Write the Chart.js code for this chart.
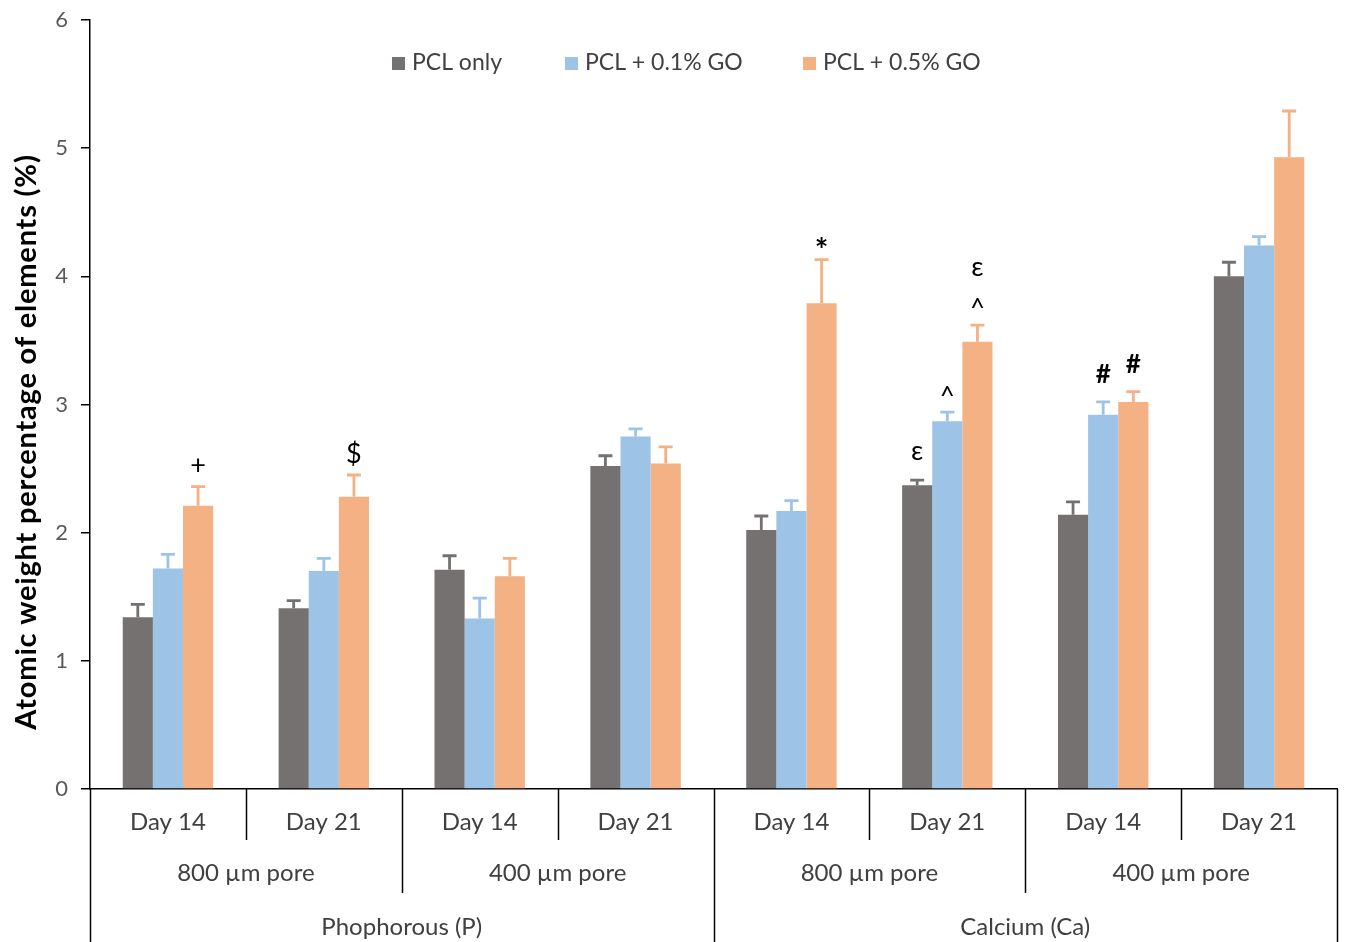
<!DOCTYPE html>
<html>
<head>
<meta charset="utf-8">
<script src="https://cdn.jsdelivr.net/npm/chart.js@4.4.1/dist/chart.umd.min.js"></script>
<style>
  html, body { margin: 0; padding: 0; background: #ffffff; }
  #wrap { width: 1345px; height: 942px; position: relative; }
</style>
</head>
<body>
<div id="wrap"><canvas id="chart" width="1345" height="942"></canvas></div>
<script>
// Category labels (three-level x axis)
const dayLabels = ['Day 14', 'Day 21', 'Day 14', 'Day 21', 'Day 14', 'Day 21', 'Day 14', 'Day 21'];
const poreLabels = ['800 \u00b5m pore', '400 \u00b5m pore', '800 \u00b5m pore', '400 \u00b5m pore'];
const elementLabels = ['Phophorous (P)', 'Calcium (Ca)'];

// Series names
const seriesNames = ['PCL only', 'PCL + 0.1% GO', 'PCL + 0.5% GO'];

// Mean values (%)
const pclOnly = [1.34, 1.41, 1.71, 2.52, 2.02, 2.37, 2.14, 4.00];
const pclGo01 = [1.72, 1.70, 1.33, 2.75, 2.17, 2.87, 2.92, 4.24];
const pclGo05 = [2.21, 2.28, 1.66, 2.54, 3.79, 3.49, 3.02, 4.93];

// Standard deviations (upper error bars)
const pclOnlyErr = [0.10, 0.06, 0.11, 0.08, 0.11, 0.04, 0.10, 0.11];
const pclGo01Err = [0.11, 0.10, 0.16, 0.06, 0.08, 0.07, 0.10, 0.07];
const pclGo05Err = [0.15, 0.17, 0.14, 0.13, 0.34, 0.13, 0.08, 0.36];

// Significance marks: category index, series index, symbols (bottom to top)
const sigCategory = [0, 1, 4, 5, 5, 5, 6, 6];
const sigSeries   = [2, 2, 2, 0, 1, 2, 1, 2];
const sigSymbols  = [['+'], ['$'], ['*'], ['\u03b5'], ['^'], ['^', '\u03b5'], ['#'], ['#']];

// Y axis tick values
const yTicks = [0, 1, 2, 3, 4, 5, 6];
const yTitle = 'Atomic weight percentage of elements (%)';

const colors = ['#767171', '#9DC3E6', '#F4B183'];
const errors = [pclOnlyErr, pclGo01Err, pclGo05Err];
const FONT = 'Lato, "Open Sans", sans-serif';

// Upper error bars with caps
const errorBarPlugin = {
  id: 'errorBars',
  afterDatasetsDraw(chart) {
    const ctx = chart.ctx;
    const y = chart.scales.y;
    ctx.save();
    chart.data.datasets.forEach((ds, di) => {
      const meta = chart.getDatasetMeta(di);
      meta.data.forEach((bar, i) => {
        const top = y.getPixelForValue(ds.data[i] + errors[di][i]);
        const base = y.getPixelForValue(ds.data[i]);
        ctx.strokeStyle = colors[di];
        ctx.lineWidth = 2.8;
        ctx.beginPath();
        ctx.moveTo(bar.x, base);
        ctx.lineTo(bar.x, top);
        ctx.moveTo(bar.x - 7, top);
        ctx.lineTo(bar.x + 7, top);
        ctx.stroke();
      });
    });
    ctx.restore();
  }
};

// Gap (px) between the error-bar cap and the symbol centre, per glyph shape
const symbolGap = { '+': 21, '$': 21, '*': 8, '\u03b5': 29, '^': 16, '#': 27 };
const symbolFont = { '*': 'bold 32px ', '^': '26px ', '#': 'bold 26px ', '+': '27px ', '$': '27px ', '\u03b5': '27px ' };

// Significance symbols above the error bars
const sigPlugin = {
  id: 'sigMarks',
  afterDatasetsDraw(chart) {
    const ctx = chart.ctx;
    const y = chart.scales.y;
    ctx.save();
    ctx.fillStyle = '#000000';
    ctx.textAlign = 'center';
    ctx.textBaseline = 'middle';
    sigCategory.forEach((c, k) => {
      const s = sigSeries[k];
      const bar = chart.getDatasetMeta(s).data[c];
      const ds = chart.data.datasets[s];
      const top = y.getPixelForValue(ds.data[c] + errors[s][c]);
      let cy = top - symbolGap[sigSymbols[k][0]];
      sigSymbols[k].forEach((sym, level) => {
        if (level > 0) cy -= 42;
        ctx.font = (symbolFont[sym] || '26px ') + FONT;
        ctx.fillText(sym, bar.x, cy);
      });
    });
    ctx.restore();
  }
};

// Legend drawn inside the plot area, plus the rotated y-axis title
const legendPlugin = {
  id: 'innerLegend',
  afterDraw(chart) {
    const ctx = chart.ctx;
    const xs = [392, 565, 803];
    const cy = 63;
    ctx.save();
    ctx.font = '23px ' + FONT;
    ctx.textBaseline = 'middle';
    ctx.textAlign = 'left';
    seriesNames.forEach((name, i) => {
      ctx.fillStyle = colors[i];
      ctx.fillRect(xs[i], cy - 6, 13, 13);
      ctx.fillStyle = '#404040';
      ctx.fillText(name, xs[i] + 20, cy);
    });
    ctx.restore();

    ctx.save();
    ctx.translate(27, 442);
    ctx.rotate(-Math.PI / 2);
    ctx.font = 'bold 29px ' + FONT;
    if ('letterSpacing' in ctx) ctx.letterSpacing = '0.8px';
    ctx.fillStyle = '#000000';
    ctx.textAlign = 'center';
    ctx.textBaseline = 'middle';
    ctx.fillText(yTitle, 0, 0);
    ctx.restore();
  }
};

// Three-level category axis with table-style separators
const multiAxisPlugin = {
  id: 'multiAxis',
  afterDraw(chart) {
    const ctx = chart.ctx;
    const x = chart.scales.x;
    const area = chart.chartArea;
    const n = dayLabels.length;
    const step = (area.right - area.left) / n;
    const edge = i => area.left + i * step;
    const rowDay = area.bottom + 33;
    const rowPore = area.bottom + 84;
    const rowElem = area.bottom + 138;
    ctx.save();
    ctx.fillStyle = '#404040';
    ctx.font = '24px ' + FONT;
    ctx.textAlign = 'center';
    ctx.textBaseline = 'middle';
    dayLabels.forEach((lab, i) => ctx.fillText(lab, x.getPixelForValue(i), rowDay));
    const perPore = n / poreLabels.length;
    poreLabels.forEach((lab, j) => ctx.fillText(lab, (edge(j * perPore) + edge((j + 1) * perPore)) / 2, rowPore));
    const perElem = n / elementLabels.length;
    elementLabels.forEach((lab, j) => ctx.fillText(lab, (edge(j * perElem) + edge((j + 1) * perElem)) / 2, rowElem));

    ctx.strokeStyle = '#000000';
    ctx.lineWidth = 1.5;
    for (let i = 0; i <= n; i++) {
      let bottom = area.bottom + 51;
      if (i % perPore === 0) bottom = area.bottom + 104;
      if (i % perElem === 0) bottom = chart.height;
      const px = Math.round(edge(i)) + 0.5;
      ctx.beginPath();
      ctx.moveTo(px, area.bottom);
      ctx.lineTo(px, bottom);
      ctx.stroke();
    }
    ctx.restore();
  }
};

new Chart(document.getElementById('chart'), {
  type: 'bar',
  data: {
    labels: dayLabels,
    datasets: [
      { label: seriesNames[0], data: pclOnly, backgroundColor: colors[0] },
      { label: seriesNames[1], data: pclGo01, backgroundColor: colors[1] },
      { label: seriesNames[2], data: pclGo05, backgroundColor: colors[2] }
    ]
  },
  options: {
    responsive: false,
    animation: false,
    layout: { padding: { top: 20, right: 8, left: 0, bottom: 0 } },
    datasets: { bar: { categoryPercentage: 0.58, barPercentage: 1.0 } },
    plugins: { legend: { display: false }, tooltip: { enabled: false } },
    scales: {
      x: {
        grid: { display: false },
        ticks: { display: false },
        border: { display: true, color: '#000000', width: 1.5 },
        afterFit(scale) { scale.height = 153; }
      },
      y: {
        min: 0,
        max: 6,
        afterBuildTicks(scale) { scale.ticks = yTicks.map(v => ({ value: v })); },
        ticks: { color: '#595959', font: { family: FONT, size: 22 }, padding: 13 },
        grid: { drawOnChartArea: false, drawTicks: true, tickLength: 9, color: '#000000', lineWidth: 1.5 },
        border: { display: true, color: '#000000', width: 1.5 },
        afterFit(scale) {
          scale.width = 90;
          scale.paddingTop = 0;
          scale.paddingBottom = 0;
        }
      }
    }
  },
  plugins: [errorBarPlugin, sigPlugin, legendPlugin, multiAxisPlugin]
});
</script>
</body>
</html>
